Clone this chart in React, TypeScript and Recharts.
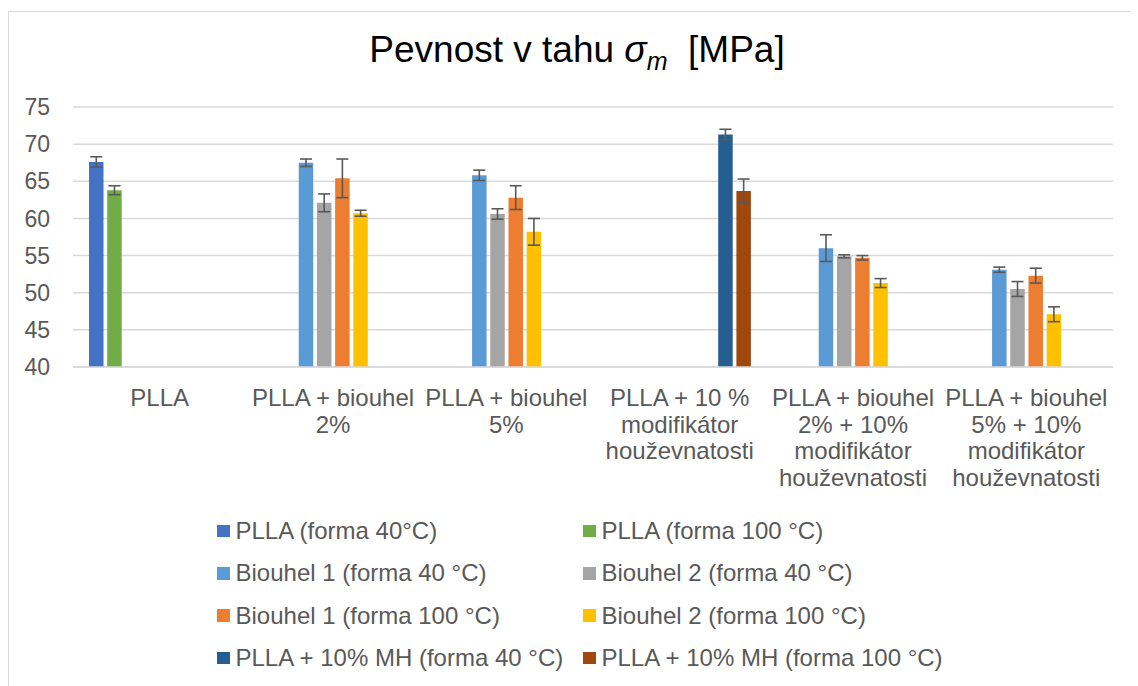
import { BarChart, Bar, XAxis, YAxis, CartesianGrid, ErrorBar } from 'recharts'

const categories = [
  'PLLA',
  'PLLA + biouhel\n2%',
  'PLLA + biouhel\n5%',
  'PLLA + 10 %\nmodifikátor\nhouževnatosti',
  'PLLA + biouhel\n2% + 10%\nmodifikátor\nhouževnatosti',
  'PLLA + biouhel\n5% + 10%\nmodifikátor\nhouževnatosti',
]

const seriesNames = [
  'PLLA (forma 40°C)',
  'PLLA (forma 100 °C)',
  'Biouhel 1 (forma 40 °C)',
  'Biouhel 2 (forma 40 °C)',
  'Biouhel 1 (forma 100 °C)',
  'Biouhel 2 (forma 100 °C)',
  'PLLA + 10% MH (forma 40 °C)',
  'PLLA + 10% MH (forma 100 °C)',
]
const seriesColors = ['#4472C4', '#70AD47', '#5B9BD5', '#A5A5A5', '#ED7D31', '#FFC000', '#255E91', '#9E480E']

// mean values, one per category (null = not measured)
const plla40 = [67.6, null, null, null, null, null]
const plla100 = [63.8, null, null, null, null, null]
const bio1At40 = [null, 67.5, 65.8, null, 56.0, 53.1]
const bio2At40 = [null, 62.1, 60.6, null, 54.9, 50.5]
const bio1At100 = [null, 65.4, 62.8, null, 54.7, 52.3]
const bio2At100 = [null, 60.7, 58.2, null, 51.3, 47.1]
const mh40 = [null, null, null, 71.3, null, null]
const mh100 = [null, null, null, 63.7, null, null]

// standard deviations
const plla40Err = [0.7, null, null, null, null, null]
const plla100Err = [0.6, null, null, null, null, null]
const bio1At40Err = [null, 0.5, 0.7, null, 1.8, 0.35]
const bio2At40Err = [null, 1.2, 0.7, null, 0.2, 1.0]
const bio1At100Err = [null, 2.6, 1.6, null, 0.3, 1.0]
const bio2At100Err = [null, 0.4, 1.8, null, 0.6, 1.0]
const mh40Err = [null, null, null, 0.7, null, null]
const mh100Err = [null, null, null, 1.6, null, null]

const yTicks = [40, 45, 50, 55, 60, 65, 70, 75]

const values = [plla40, plla100, bio1At40, bio2At40, bio1At100, bio2At100, mh40, mh100]
const errors = [plla40Err, plla100Err, bio1At40Err, bio2At40Err, bio1At100Err, bio2At100Err, mh40Err, mh100Err]

const data = categories.map((name, i) => {
  const row: Record<string, string | number | null> = { name }
  values.forEach((v, k) => {
    row['v' + k] = v[i]
    row['e' + k] = errors[k][i]
  })
  return row
})

const FONT = '"Liberation Sans", Arial, sans-serif'
const TEXT = '#595959'

function CategoryTick({ x, y, payload }: any) {
  const lines = String(payload.value).split('\n')
  return (
    <text x={x} y={y} textAnchor="middle" fill={TEXT} fontSize={24} fontFamily={FONT}>
      {lines.map((l, i) => (
        <tspan key={i} x={x} dy={i === 0 ? '0.71em' : '1.11em'}>{l}</tspan>
      ))}
    </text>
  )
}

export default function App() {
  return (
    <div style={{ position: 'relative', width: 1130, height: 678, overflow: 'hidden', fontFamily: FONT }}>
      <style>{'body{overflow:hidden}'}</style>
      <div style={{ position: 'absolute', left: 0, top: 3, width: 1200, height: 800, borderTop: '1.5px solid #d9d9d9', borderLeft: '1.5px solid #d9d9d9' }} />
      <svg width={1130} height={80} style={{ position: 'absolute', left: 0, top: 0 }}>
        <text x={569} y={54} textAnchor="middle" fontSize={37} fill="#000" fontFamily={FONT}>
          Pevnost v tahu <tspan fontStyle="italic">σ</tspan>
          <tspan fontStyle="italic" fontSize={25} dy={8}>m</tspan>
          <tspan dy={-8}>{'\u00a0\u00a0[MPa]'}</tspan>
        </text>
      </svg>
      <div style={{ position: 'absolute', left: 0, top: 0 }}>
        <BarChart
          width={1130}
          height={500}
          data={data}
          margin={{ top: 99, right: 25, bottom: 11, left: 0 }}
          barSize={14.5}
          barGap={3.7}
          style={{ fontFamily: FONT }}
        >
          <CartesianGrid vertical={false} stroke="#d9d9d9" strokeWidth={1.5} />
          <XAxis
            dataKey="name"
            height={130}
            interval={0}
            tickLine={false}
            tickSize={6}
            tickMargin={16}
            axisLine={{ stroke: '#d9d9d9', strokeWidth: 1.5 }}
            tick={<CategoryTick />}
          />
          <YAxis
            width={65}
            domain={[40, 75]}
            ticks={yTicks}
            allowDataOverflow
            axisLine={false}
            tickLine={false}
            tickSize={6}
            tickMargin={17}
            tick={{ fontSize: 23, fill: TEXT, fontFamily: FONT }}
          />
          {seriesNames.map((n, k) => (
            <Bar key={n} dataKey={'v' + k} name={n} fill={seriesColors[k]} isAnimationActive={false}>
              <ErrorBar dataKey={'e' + k} width={6} stroke="#595959" strokeWidth={1.6} direction="y" isAnimationActive={false} />
            </Bar>
          ))}
        </BarChart>
      </div>
      {seriesNames.map((n, k) => (
        <div
          key={n}
          style={{
            position: 'absolute',
            left: k % 2 === 0 ? 209 : 575,
            top: 523 + Math.floor(k / 2) * 42.3 - 14,
            height: 28,
            display: 'flex',
            alignItems: 'center',
            whiteSpace: 'nowrap',
            fontSize: 24,
            color: TEXT,
          }}
        >
          <span style={{ display: 'inline-block', width: 12.5, height: 12.5, background: seriesColors[k], marginRight: 6 }} />
          {n}
        </div>
      ))}
    </div>
  )
}
